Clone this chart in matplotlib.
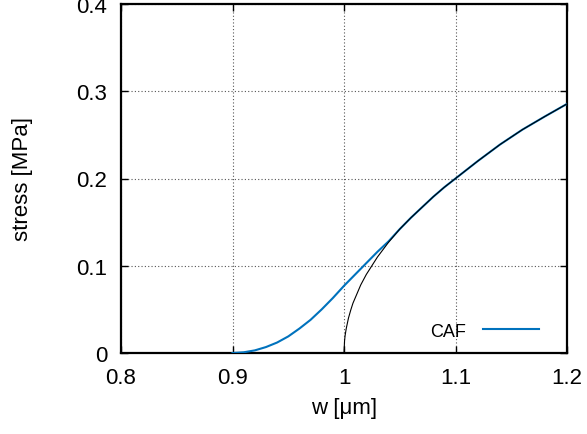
import matplotlib
matplotlib.use("Agg")
import matplotlib.pyplot as plt

plt.rcParams['font.family'] = ['Liberation Sans', 'DejaVu Sans']
plt.rcParams['font.size'] = 16

# CAF curve (blue)
w_caf = [0.90, 0.91, 0.92, 0.93, 0.94, 0.95, 0.96, 0.97, 0.98, 0.99, 1.00,
         1.01, 1.02, 1.03, 1.04, 1.05, 1.06, 1.07, 1.08, 1.09, 1.10,
         1.12, 1.14, 1.16, 1.18, 1.20]
s_caf = [0.0, 0.0008, 0.003, 0.0068, 0.012, 0.019, 0.028, 0.038, 0.050, 0.063, 0.077,
         0.090, 0.103, 0.116, 0.128, 0.142, 0.155, 0.167, 0.179, 0.190, 0.200,
         0.220, 0.239, 0.256, 0.271, 0.2855]

# reference curve (thin black), vertical start at w = 1
w_ref = [1.0, 1.0005, 1.001, 1.002, 1.004, 1.006, 1.008, 1.01, 1.015, 1.02,
         1.025, 1.03, 1.04, 1.05, 1.06, 1.07, 1.08, 1.09, 1.10,
         1.12, 1.14, 1.16, 1.18, 1.20]
s_ref = [0.0, 0.014, 0.020, 0.028, 0.040, 0.049, 0.057, 0.063, 0.078, 0.090,
         0.100, 0.110, 0.127, 0.142, 0.155, 0.167, 0.179, 0.190, 0.200,
         0.220, 0.239, 0.256, 0.271, 0.2855]

xticks = [0.8, 0.9, 1.0, 1.1, 1.2]
xticklabels = ["0.8", "0.9", "1", "1.1", "1.2"]
yticks = [0.0, 0.1, 0.2, 0.3, 0.4]
yticklabels = ["0", "0.1", "0.2", "0.3", "0.4"]

fig = plt.figure(figsize=(5.87, 4.35), dpi=100)
ax = fig.add_axes([121 / 587, 1 - 354 / 435, 446 / 587, 349 / 435])

ax.plot(w_caf, s_caf, color='#0072bd', lw=1.5, label='CAF', zorder=3)
ax.plot(w_ref, s_ref, color='black', lw=0.8, zorder=4)

ax.set_xlim(0.8, 1.2)
ax.set_ylim(0, 0.4)
ax.set_xticks(xticks)
ax.set_xticklabels(xticklabels)
ax.set_yticks(yticks)
ax.set_yticklabels(yticklabels)

ax.grid(True, linestyle=(0, (1, 2)), color='#555555', lw=0.8)
ax.tick_params(direction='in', length=5, width=1, top=True, right=True)
ax.tick_params(axis='x', pad=10)
ax.tick_params(axis='y', pad=10)
for sp in ax.spines.values():
    sp.set_linewidth(1.6)

ax.set_xlabel("w [μm]")
ax.set_ylabel("stress [MPa]")
ax.xaxis.set_label_coords(0.5, -0.125)
ax.yaxis.set_label_coords(-0.197, 0.5)

ax.legend(loc='center right', bbox_to_anchor=(0.937, 0.063), frameon=False,
          markerfirst=False, handlelength=3.1, handletextpad=0.95, borderpad=0,
          borderaxespad=0, fontsize=13)

fig.savefig("out.png", dpi=100)
